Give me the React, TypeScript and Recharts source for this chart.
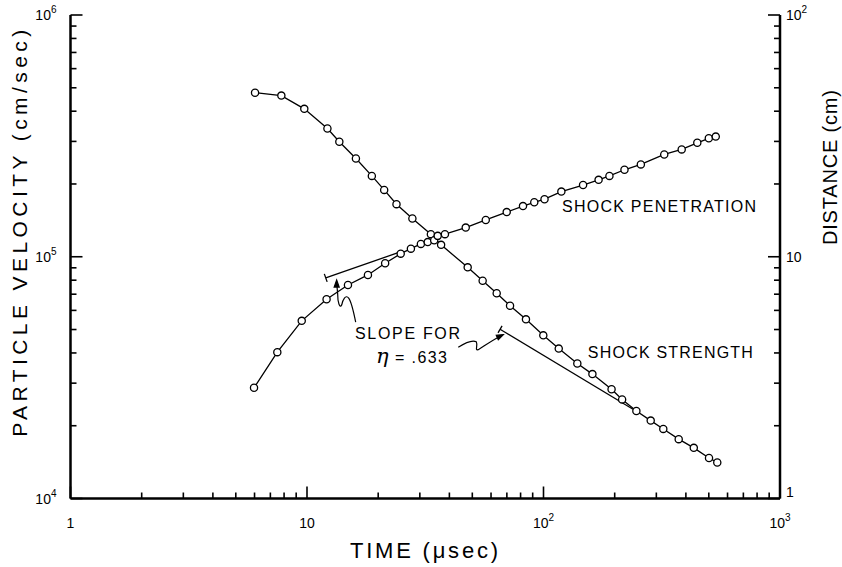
import { LineChart, Line, XAxis, YAxis, ReferenceLine, ReferenceDot } from 'recharts';

// shock strength: particle velocity (cm/sec) vs time (µsec), left axis
const strengthTime = [
  6.03, 7.79, 9.74, 12.2, 13.7, 16.1, 18.8, 21.2, 23.9, 27.9, 33.4, 36.9, 47.8, 55.3, 63.4,
  72.2, 84.3, 99.8, 116, 139, 161, 194, 215, 247, 284, 321, 373, 432, 501, 543,
];
const strengthVelocity = [
  4.77e5, 4.64e5, 4.09e5, 3.39e5, 2.99e5, 2.55e5, 2.16e5, 1.89e5, 1.65e5, 1.44e5, 1.24e5,
  1.12e5, 9.04e4, 7.96e4, 7.06e4, 6.27e4, 5.51e4, 4.73e4, 4.17e4, 3.62e4, 3.27e4, 2.83e4,
  2.57e4, 2.3e4, 2.1e4, 1.94e4, 1.76e4, 1.62e4, 1.47e4, 1.41e4,
];

// shock penetration: distance (cm) vs time (µsec), right axis
const penetrationTime = [
  5.97, 7.49, 9.5, 12.1, 14.9, 18.1, 21.4, 24.9, 27.5, 30.3, 32.4, 34.5, 35.7, 38.3, 46.9, 57,
  69.9, 81.9, 91.4, 101, 119, 147, 171, 190, 220, 258, 324, 384, 447, 500, 535,
];
const penetrationDistance = [
  2.87, 4.03, 5.43, 6.67, 7.64, 8.41, 9.4, 10.3, 10.8, 11.3, 11.5, 11.7, 12.2, 12.4, 13.2, 14.2,
  15.3, 16.2, 16.8, 17.3, 18.6, 19.8, 20.8, 21.6, 22.9, 24.1, 26.5, 27.8, 29.6, 30.9, 31.4,
];

// slope guide lines for eta = .633
const penetrationSlope = [
  { x: 12.0, y: 8.18 },
  { x: 24.3, y: 10.4 },
];
const strengthSlope = [
  { x: 65.5, y: 5.01e4 },
  { x: 239, y: 2.34e4 },
];

const decades = (from: number, to: number) => {
  const out: number[] = [];
  for (let e = from; e < to; e++) for (let m = 1; m < 10; m++) out.push(m * 10 ** e);
  out.push(10 ** to);
  return out;
};
const timeTicks = decades(0, 3);
const velocityTicks = decades(4, 6);
const distanceTicks = decades(0, 2);

const strengthData = strengthTime.map((t, i) => ({ t, v: strengthVelocity[i] }));
const penetrationData = penetrationTime.map((t, i) => ({ t, d: penetrationDistance[i] }));

const FONT = '"Liberation Sans", Arial, sans-serif';

// pixels per decade of the plot frame, used to turn tick lengths into log offsets
const X_DEC = 236.5;
const Y_DEC = 241.75;

const isMajor = (v: number) => {
  const e = Math.round(Math.log10(v));
  return Math.abs(v - 10 ** e) < 1e-6 * v;
};
const tickLen = (v: number) => (isMajor(v) ? 12 : 6);
const xStep = (v: number) => 10 ** (tickLen(v) / X_DEC);
const yStep = (v: number) => 10 ** (tickLen(v) / Y_DEC);

function Pow({ v, plain }: { v: number; plain?: boolean }) {
  const e = Math.round(Math.log10(v));
  if (plain && e < 2) return <>{String(10 ** e)}</>;
  return (
    <>
      10
      <tspan dy={-7} fontSize={10}>
        {e}
      </tspan>
    </>
  );
}

function LeftTickLabel({ cx, cy, v }: any) {
  return (
    <text x={cx - 14} y={cy + 5} textAnchor="end" fontSize={14} fontFamily={FONT} fill="#000">
      <Pow v={v} />
    </text>
  );
}

function RightTickLabel({ cx, cy, v }: any) {
  return (
    <text x={cx + 6} y={v === 1 ? cy - 2 : cy + 5} fontSize={14} fontFamily={FONT} fill="#000">
      <Pow v={v} plain />
    </text>
  );
}

function BottomTickLabel({ cx, cy, v }: any) {
  return (
    <text x={cx} y={cy + 29} textAnchor="middle" fontSize={14} fontFamily={FONT} fill="#000">
      <Pow v={v} plain />
    </text>
  );
}

function Label({ cx, cy, text, size = 16, width, rotate }: any) {
  return (
    <text
      x={0}
      y={0}
      transform={`translate(${cx},${cy})${rotate ? ' rotate(-90)' : ''}`}
      fontSize={size}
      fontFamily={FONT}
      fill="#000"
      textLength={width}
      lengthAdjust="spacing"
    >
      {text}
    </text>
  );
}

// "η = .633", the eta drawn a little larger
function EtaLabel({ cx, cy }: any) {
  return (
    <g fill="#000">
      <text x={cx} y={cy} fontSize={21} fontStyle="italic" fontFamily='"DejaVu Serif", serif'>
        η
      </text>
      <text x={cx + 19} y={cy} fontSize={16} fontFamily={FONT} textLength={52} lengthAdjust="spacing">
        = .633
      </text>
    </g>
  );
}

// squiggly leader from "SLOPE FOR" up to the penetration slope line
function UpArrow({ cx, cy }: any) {
  return (
    <g transform={`translate(${cx},${cy})`} fill="none" stroke="#000" strokeWidth={1.2}>
      <path d="M 19,42 C 17,32 15,22 12,18 C 9,14 6,20 5,25 C 3,29 1,22 1,14 L 0,3" />
      <path d="M 0,0 L -2.5,7 L 2.5,7 Z" fill="#000" />
    </g>
  );
}

// squiggly leader from "η = .633" to the strength slope line
function RightArrow({ cx, cy }: any) {
  return (
    <g transform={`translate(${cx},${cy})`} fill="none" stroke="#000" strokeWidth={1.2}>
      <path d="M -45,12.5 C -38,8 -31,5 -27,7 C -25,11 -29,16 -25,15 C -20,12 -12,6 -3,1.5" />
      <path d="M 0,0 L -7,0.5 L -5,5 Z" fill="#000" />
    </g>
  );
}

function Cap({ cx, cy, dx, dy }: any) {
  return <path d={`M${cx - dx},${cy - dy}L${cx + dx},${cy + dy}`} stroke="#000" strokeWidth={1.3} />;
}

export default function App() {
  const dot = { r: 3.6, fill: '#fff', stroke: '#000', strokeWidth: 1.3 };
  const axisLine = { stroke: '#000', strokeWidth: 2.5 };
  return (
    <div style={{ position: 'absolute', left: 0, top: 0, width: 842, height: 567, background: '#fff' }}>
      <LineChart width={842} height={567} margin={{ top: 15, right: 0, bottom: 0, left: 0 }}>
        <XAxis
          dataKey="t"
          type="number"
          scale="log"
          domain={[1, 1000]}
          ticks={timeTicks}
          allowDataOverflow
          height={68.5}
          axisLine={axisLine}
          tickLine={false}
          tick={false}
        />
        <YAxis
          yAxisId="left"
          type="number"
          scale="log"
          domain={[1e4, 1e6]}
          ticks={velocityTicks}
          allowDataOverflow
          width={70.5}
          axisLine={axisLine}
          tickLine={false}
          tick={false}
        />
        <YAxis
          yAxisId="right"
          orientation="right"
          type="number"
          scale="log"
          domain={[1, 100]}
          ticks={distanceTicks}
          allowDataOverflow
          width={62}
          axisLine={axisLine}
          tickLine={false}
          tick={false}
        />
        {/* inward tick marks as short reference segments */}
        {velocityTicks.map((v) => (
          <ReferenceLine
            key={`lt${v}`}
            yAxisId="left"
            segment={[
              { x: 1, y: v },
              { x: xStep(v), y: v },
            ]}
            stroke="#000"
            strokeWidth={1.6}
            ifOverflow="visible"
          />
        ))}
        {distanceTicks.map((v) => (
          <ReferenceLine
            key={`rt${v}`}
            yAxisId="right"
            segment={[
              { x: 1000 / xStep(v), y: v },
              { x: 1000, y: v },
            ]}
            stroke="#000"
            strokeWidth={1.6}
            ifOverflow="visible"
          />
        ))}
        {timeTicks.map((v) => (
          <ReferenceLine
            key={`bt${v}`}
            yAxisId="left"
            segment={[
              { x: v, y: 1e4 },
              { x: v, y: 1e4 * yStep(v) },
            ]}
            stroke="#000"
            strokeWidth={1.6}
            ifOverflow="visible"
          />
        ))}
        {velocityTicks.filter(isMajor).map((v) => (
          <ReferenceDot
            key={`l${v}`}
            yAxisId="left"
            x={1}
            y={v}
            ifOverflow="visible"
            shape={(p: any) => <LeftTickLabel {...p} v={v} />}
          />
        ))}
        {distanceTicks.filter(isMajor).map((v) => (
          <ReferenceDot
            key={`r${v}`}
            yAxisId="right"
            x={1000}
            y={v}
            ifOverflow="visible"
            shape={(p: any) => <RightTickLabel {...p} v={v} />}
          />
        ))}
        {timeTicks.filter(isMajor).map((v) => (
          <ReferenceDot
            key={`b${v}`}
            yAxisId="left"
            x={v}
            y={1e4}
            ifOverflow="visible"
            shape={(p: any) => <BottomTickLabel {...p} v={v} />}
          />
        ))}
        <ReferenceLine
          yAxisId="right"
          segment={penetrationSlope}
          stroke="#000"
          strokeWidth={1.3}
          ifOverflow="visible"
        />
        <ReferenceLine
          yAxisId="left"
          segment={strengthSlope}
          stroke="#000"
          strokeWidth={1.3}
          ifOverflow="visible"
        />
        <ReferenceDot
          yAxisId="right"
          x={penetrationSlope[0].x}
          y={penetrationSlope[0].y}
          ifOverflow="visible"
          shape={(p: any) => <Cap {...p} dx={1.4} dy={4} />}
        />
        <ReferenceDot
          yAxisId="left"
          x={strengthSlope[0].x}
          y={strengthSlope[0].y}
          ifOverflow="visible"
          shape={(p: any) => <Cap {...p} dx={-2} dy={3.5} />}
        />
        <ReferenceDot
          yAxisId="right"
          x={13.35}
          y={8.01}
          ifOverflow="visible"
          shape={(p: any) => <UpArrow {...p} />}
        />
        <ReferenceDot
          yAxisId="left"
          x={67.6}
          y={4.76e4}
          ifOverflow="visible"
          shape={(p: any) => <RightArrow {...p} />}
        />
        {/* annotation and axis titles, anchored in data space */}
        <ReferenceDot
          yAxisId="right"
          x={119.7}
          y={15.3}
          ifOverflow="visible"
          shape={(p: any) => <Label {...p} text="SHOCK PENETRATION" width={194} />}
        />
        <ReferenceDot
          yAxisId="left"
          x={154}
          y={3.795e4}
          ifOverflow="visible"
          shape={(p: any) => <Label {...p} text="SHOCK STRENGTH" width={165} />}
        />
        <ReferenceDot
          yAxisId="left"
          x={15.96}
          y={4.59e4}
          ifOverflow="visible"
          shape={(p: any) => <Label {...p} text="SLOPE FOR" width={105} />}
        />
        <ReferenceDot
          yAxisId="left"
          x={19.58}
          y={3.636e4}
          ifOverflow="visible"
          shape={(p: any) => <EtaLabel {...p} />}
        />
        <ReferenceDot
          yAxisId="left"
          x={15.2}
          y={1e4}
          ifOverflow="visible"
          shape={(p: any) => <Label {...p} cy={p.cy + 59.5} text="TIME (μsec)" size={22} width={148} />}
        />
        <ReferenceDot
          yAxisId="left"
          x={1}
          y={1.8e4}
          ifOverflow="visible"
          shape={(p: any) => (
            <Label {...p} cx={p.cx - 43.5} text="PARTICLE VELOCITY (cm/sec)" size={21} width={407} rotate />
          )}
        />
        <ReferenceDot
          yAxisId="right"
          x={1000}
          y={11.18}
          ifOverflow="visible"
          shape={(p: any) => <Label {...p} cx={p.cx + 57} text="DISTANCE (cm)" size={20} width={155} rotate />}
        />
        <Line
          yAxisId="left"
          data={strengthData}
          dataKey="v"
          type="linear"
          stroke="#000"
          strokeWidth={1.3}
          dot={dot}
          isAnimationActive={false}
        />
        <Line
          yAxisId="right"
          data={penetrationData}
          dataKey="d"
          type="linear"
          stroke="#000"
          strokeWidth={1.3}
          dot={dot}
          isAnimationActive={false}
        />
      </LineChart>
    </div>
  );
}
